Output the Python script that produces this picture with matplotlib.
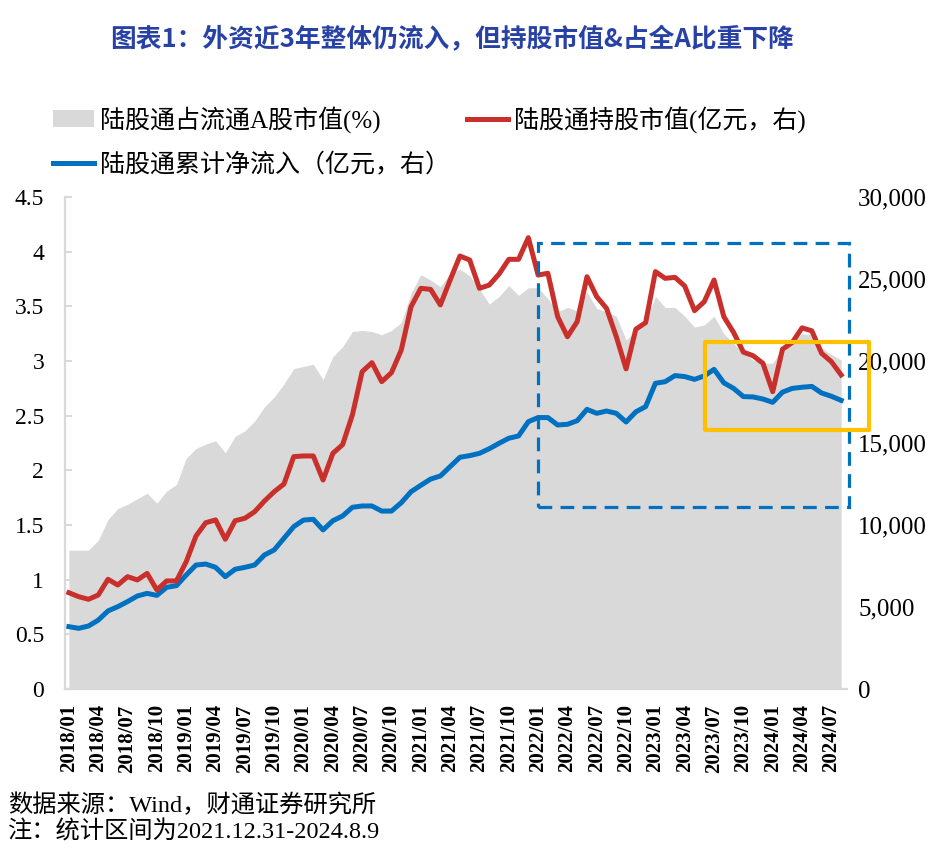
import matplotlib
matplotlib.use('Agg')
import matplotlib.pyplot as plt
import numpy as np
from matplotlib.patches import Rectangle, Patch
from matplotlib.lines import Line2D
from matplotlib.ticker import FuncFormatter

plt.rcParams['font.family'] = ['Liberation Serif', 'Noto Sans CJK SC']

# 2018/01 - 2024/08, monthly
months = ['%d/%02d' % (y, m) for y in range(2018, 2025) for m in range(1, 13)][:80]

# 陆股通占流通A股市值 (%)
share = [1.27, 1.27, 1.27, 1.36, 1.55, 1.65, 1.69, 1.74, 1.79, 1.70,
         1.81, 1.87, 2.11, 2.20, 2.24, 2.27, 2.16, 2.31, 2.36, 2.45,
         2.58, 2.67, 2.79, 2.93, 2.95, 2.97, 2.83, 3.04, 3.13, 3.27,
         3.28, 3.27, 3.24, 3.28, 3.35, 3.62, 3.79, 3.74, 3.68, 3.80,
         3.84, 3.78, 3.66, 3.52, 3.59, 3.69, 3.60, 3.67, 3.67, 3.57,
         3.45, 3.49, 3.46, 3.63, 3.48, 3.45, 3.41, 3.19, 3.28, 3.36,
         3.59, 3.49, 3.49, 3.41, 3.31, 3.33, 3.41, 3.25, 3.16, 3.07,
         3.01, 2.98, 2.98, 3.12, 3.18, 3.25, 3.24, 3.12, 3.06, 3.01]

# 陆股通持股市值 (亿元)
holding = [5870, 5630, 5470, 5730, 6690, 6340, 6850, 6650, 7050, 6040,
           6590, 6590, 7760, 9330, 10140, 10310, 9130, 10260, 10410, 10810,
           11460, 12030, 12500, 14170, 14210, 14210, 12740, 14370, 14900, 16710,
           19350, 19900, 18740, 19290, 20670, 23310, 24430, 24370, 23420, 24940,
           26400, 26160, 24430, 24630, 25300, 26200, 26200, 27520, 25240, 25350,
           22700, 21480, 22400, 25140, 23920, 23210, 21480, 19520, 21940, 22340,
           25450, 25040, 25100, 24570, 23070, 23620, 24940, 22700, 21740, 20540,
           20320, 19860, 18130, 20720, 21130, 22020, 21840, 20470, 19960, 19150]

# 陆股通累计净流入 (亿元)
inflow = [3800, 3700, 3840, 4200, 4760, 5020, 5330, 5670, 5830, 5710,
          6200, 6300, 6950, 7560, 7620, 7420, 6850, 7300, 7420, 7560,
          8170, 8480, 9190, 9900, 10300, 10350, 9700, 10260, 10550, 11080,
          11160, 11160, 10850, 10850, 11360, 12030, 12420, 12800, 12990, 13560,
          14130, 14230, 14370, 14650, 14980, 15290, 15430, 16300, 16550, 16550,
          16100, 16140, 16360, 17050, 16810, 16950, 16810, 16280, 16900, 17220,
          18640, 18740, 19110, 19050, 18880, 19090, 19490, 18670, 18330, 17830,
          17810, 17680, 17480, 18100, 18330, 18400, 18450, 18050, 17850, 17600]

GRAY = '#D9D9D9'
RED = '#C9302C'
BLUE = '#0070C0'
YELLOW = '#FFC000'

x = np.arange(len(months))

fig = plt.figure(figsize=(9.4, 8.49), dpi=100)
ax = fig.add_axes([65 / 940, 1 - 689 / 849, (847 - 65) / 940, (689 - 197) / 849])

ax.fill_between(x, 0, share, color=GRAY, lw=0, zorder=1)
ax.set_xlim(-0.4, 79.6)
ax.set_ylim(0, 4.5)
ax.set_yticks(np.arange(0, 4.51, 0.5))
ax.yaxis.set_major_formatter(FuncFormatter(lambda v, p: '%g' % v))
for s in ['top', 'right']:
    ax.spines[s].set_visible(False)
for s in ['left', 'bottom']:
    ax.spines[s].set_color(GRAY)
    ax.spines[s].set_linewidth(1.6)
ax.tick_params(axis='y', direction='in', length=5, width=1.5, color=GRAY,
               labelsize=17, pad=15)
ax.set_xticks(x[::3])
ax.set_xticklabels(months[::3], rotation=90, fontsize=15, fontweight='bold')
ax.tick_params(axis='x', length=0, pad=11)

ax2 = ax.twinx()
ax2.plot(x, inflow, color=BLUE, lw=3.6, solid_joinstyle='round', zorder=3)
ax2.plot(x, holding, color=RED, lw=3.6, solid_joinstyle='round', zorder=4)
ax2.set_ylim(0, 30000)
ax2.set_yticks(np.arange(0, 30001, 5000))
ax2.yaxis.set_major_formatter(FuncFormatter(lambda v, p: '{:,.0f}'.format(v)))
for s in ax2.spines.values():
    s.set_visible(False)
ax2.tick_params(axis='y', length=0, labelsize=18, pad=8)

# highlight boxes (index units on x, right-axis units on y)
ax2.add_patch(Rectangle((48.0, 11080), 79.8 - 48.0, 27180 - 11080, fill=False,
                        ec=BLUE, lw=2.3, ls=(0, (4.3, 2.6)), clip_on=False, zorder=5))
ax2.add_patch(Rectangle((65.1, 15800), 81.8 - 65.1, 21140 - 15800, fill=False,
                        ec=YELLOW, lw=3.0, joinstyle='round', clip_on=False, zorder=6))

# legend
h_share = Patch(facecolor=GRAY, edgecolor='none')
h_hold = Line2D([], [], color=RED, lw=3.6)
h_flow = Line2D([], [], color=BLUE, lw=3.6)
leg_kw = dict(loc='upper left', frameon=False, fontsize=18, handlelength=1.65,
              handletextpad=0.25, labelspacing=0.8, borderpad=0, borderaxespad=0)
fig.legend([h_share, h_flow], ['陆股通占流通A股市值(%)', '陆股通累计净流入（亿元，右）'],
           bbox_to_anchor=(53 / 940, 1 - 106 / 849), **leg_kw)
fig.legend([h_hold], ['陆股通持股市值(亿元，右)'],
           bbox_to_anchor=(467 / 940, 1 - 106 / 849), **leg_kw)

fig.text(452 / 940, 1 - 40 / 849, '图表1：外资近3年整体仍流入，但持股市值&占全A比重下降',
         ha='center', va='center', fontsize=18.5, fontweight='bold', color='#2841A5',
         family='Noto Sans CJK SC')
fig.text(8 / 940, 1 - 805 / 849, '数据来源：Wind，财通证券研究所', ha='left', va='center',
         fontsize=17.5)
fig.text(8 / 940, 1 - 832 / 849, '注：统计区间为2021.12.31-2024.8.9', ha='left', va='center',
         fontsize=17.5)

fig.savefig('out.png', dpi=100)
